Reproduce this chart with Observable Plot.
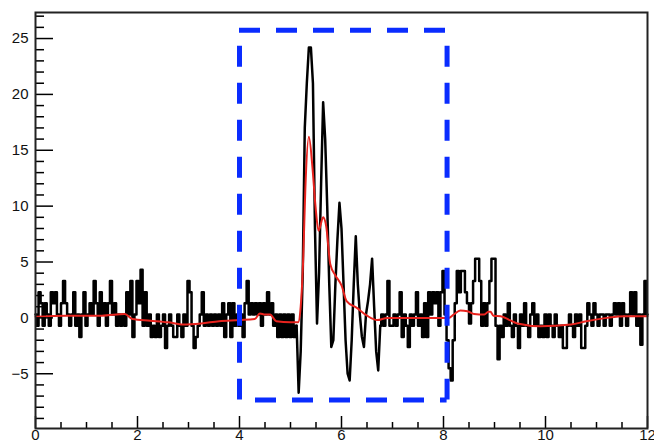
<!DOCTYPE html>
<html><head><meta charset="utf-8">
<script src="https://cdn.jsdelivr.net/npm/d3@7"></script>
<script src="https://cdn.jsdelivr.net/npm/@observablehq/plot@0.6"></script>
<style>html,body{margin:0;padding:0;background:#fff;} #chart svg{display:block;overflow:visible}</style>
</head><body><div id="chart"></div>
<script>
// Black waveform: samples every 0.04 from x = 0 to 12
const sampleStart = 0;
const sampleStep = 0.04;
const signal = [
  0.3,-0.7,2.3,1.3,-0.7,1.3,0.3,-0.7,2.3,1.3,2.3,0.3,-0.7,1.3,3.3,1.3,0.3,-0.7,0.3,2.3,-0.7,0.3,-1.7,0.3,2.3,
  -0.7,0.3,1.3,0.3,3.3,1.3,-0.7,2.3,0.3,1.3,-0.7,1.3,3.3,0.3,1.3,-0.7,0.3,-0.7,0.3,-0.7,2.3,0.3,3.3,-1.7,0.3,
  3.3,1.3,4.3,-0.7,2.3,-0.7,0.3,-1.7,-0.7,-1.7,0.3,-1.7,-0.7,0.3,-2.7,-0.7,0.3,-0.7,-1.7,-1.7,0.3,-0.7,-1.7,0.3,-0.7,
  3.3,2.3,-0.7,-2.7,-1.7,-0.7,0.3,2.3,-0.7,0.3,-0.7,0.3,-0.7,0.3,-0.7,0.3,-0.7,1.3,-1.7,0.3,1.3,-1.7,1.3,-0.7,0.3,
  -0.7,0.3,-1.7,1.3,3.3,0.3,1.3,0.3,1.3,0.3,1.3,-0.7,1.3,0.3,2.3,0.3,1.3,-0.7,0.3,-1.7,0.3,-1.7,0.3,-1.7,0.3,
  -1.7,0.3,-1.7,-0.7,-6.7,-3.0,4.0,17.0,21.0,24.2,24.2,21.0,8.0,-0.5,4.0,12.0,19.3,16.0,10.0,3.0,-2.6,-2.0,3.0,7.0,10.3,
  8.0,3.0,-2.0,-5.0,-5.6,-2.0,3.0,7.3,3.0,0.3,-1.7,-2.6,0.3,1.5,3.0,5.3,1.0,-3.0,-4.7,-0.7,0.3,-0.7,0.3,3.3,-0.7,
  -0.7,0.3,-0.7,0.3,2.3,-1.7,0.3,-0.7,-2.6,0.3,-0.7,0.3,2.3,-0.7,0.3,-1.7,1.3,-1.7,2.3,0.3,2.3,1.3,2.3,-0.7,2.3,
  4.2,0.3,-2.0,-4.5,-5.6,-2.0,1.3,4.2,2.3,4.2,4.2,2.3,1.3,-0.5,1.3,3.3,5.3,5.3,3.3,-0.7,1.3,-0.7,1.3,3.3,5.3,
  5.3,-0.7,-3.7,-0.7,-1.7,0.3,-0.7,1.3,-0.7,-1.7,0.3,-0.7,-2.7,0.3,-0.7,1.3,-0.7,-1.7,0.3,1.3,-0.7,0.3,-1.7,-0.7,-1.7,
  0.3,-1.7,0.3,-0.7,-1.7,0.3,-0.7,-1.7,-0.7,-2.7,-2.7,-0.7,0.3,-0.7,-1.7,0.3,-0.7,0.3,-2.7,-2.7,-0.7,1.3,0.3,-0.7,1.3,
  0.3,-0.7,0.3,0.3,-0.7,0.3,0.3,-0.7,0.3,1.3,0.3,1.3,-0.7,1.3,0.3,-0.7,0.3,2.3,0.3,2.3,-0.7,0.3,-2.4,0.3,3.3,0.3
];
// x-range of the pulse (drawn with straight segments; the quiet baseline is drawn as steps)
const pulseRange = [5.12, 6.76];
// Red smoothed curve
const smoothX = [0,0.6,1.3,1.75,1.9,2.25,2.6,2.9,3.25,3.6,4.0,4.3,4.4,4.5,4.6,4.72,5.0,5.15,5.2,5.25,5.29,5.36,5.43,5.49,5.55,5.64,5.7,5.78,5.88,6.0,6.1,6.3,6.5,6.7,6.9,7.5,8.1,8.2,8.33,8.47,8.6,8.8,8.88,8.92,8.98,9.12,9.3,9.45,9.9,10.5,10.8,11.2,11.55,12];
const smoothY = [0.1,0.2,0.2,0.35,-0.1,-0.25,-0.4,-0.6,-0.5,-0.3,-0.2,-0.1,0.4,0.3,0.3,-0.3,-0.4,-0.4,1.0,5.4,11.4,16.2,13.5,10.0,7.8,9.0,8.2,4.8,3.8,2.9,1.5,0.9,0.2,-0.2,0,0,0,0.3,0.65,0.6,0.35,0.3,0.55,0.55,0.2,0.15,-0.2,-0.5,-0.75,-0.6,-0.3,0,0.15,0.15];
// Dashed selection box
const boxX = [4.0, 8.07];
const boxY = [-7.35, 25.75];
// Axes
const xDomain = [0, 12];
const yDomain = [-9.9, 27.33];
const xMajor = [0,2,4,6,8,10,12];
const xMinor = [0.5,1,1.5,2.5,3,3.5,4.5,5,5.5,6.5,7,7.5,8.5,9,9.5,10.5,11,11.5];
const yMajor = [-5,0,5,10,15,20,25];
const yMinor = [-9,-8,-7,-6,-4,-3,-2,-1,1,2,3,4,6,7,8,9,11,12,13,14,16,17,18,19,21,22,23,24,26,27];

const W = 654, H = 444, mt = 12, mr = 7, mb = 16, ml = 35;
const pw = W - ml - mr, ph = H - mt - mb;

const black = signal.map((v, i) => ({x: +(sampleStart + i * sampleStep).toFixed(2), y: v}));
const eps = 1e-9;
const seg = black.map(d => d.x <= pulseRange[0] + eps ? "a" : d.x >= pulseRange[1] - eps ? "c" : "b");
const before = black.filter(d => d.x <= pulseRange[0] + eps);
const pulse = black.filter(d => d.x >= pulseRange[0] - eps && d.x <= pulseRange[1] + eps);
const after = black.filter(d => d.x >= pulseRange[1] - eps);
const red = smoothX.map((x, i) => ({x, y: smoothY[i]}));
const blue = "#0a2cff";
const blackStyle = {x: "x", y: "y", stroke: "#000", strokeWidth: 2.5};

const chart = Plot.plot({
  width: W, height: H,
  marginTop: mt, marginRight: mr, marginBottom: mb, marginLeft: ml,
  style: {fontFamily: "'Liberation Sans', Arial, Helvetica, sans-serif", fontSize: "15px", color: "#111", background: "#fff"},
  x: {domain: xDomain, label: null},
  y: {domain: yDomain, label: null},
  marks: [
    Plot.axisX(xMajor, {tickSize: 0, tickPadding: 1, fontSize: 15, label: null}),
    Plot.axisY(yMajor, {tickSize: 0, tickPadding: 7, fontSize: 15, label: null}),
    Plot.line(before, {...blackStyle, curve: "step"}),
    Plot.line(pulse, {...blackStyle, curve: "linear", strokeLinejoin: "round"}),
    Plot.line(after, {...blackStyle, curve: "step"}),
    Plot.line(red, {x: "x", y: "y", stroke: "#e8231e", strokeWidth: 2, curve: "monotone-x"}),
    Plot.ruleY([boxY[1]], {x1: boxX[0], x2: boxX[1], stroke: blue, strokeWidth: 5, strokeDasharray: "21,16", strokeDashoffset: 0}),
    Plot.ruleY([boxY[0]], {x1: boxX[0], x2: boxX[1], stroke: blue, strokeWidth: 5, strokeDasharray: "21,16", strokeDashoffset: 21}),
    Plot.ruleX(boxX, {y1: boxY[1], y2: boxY[0], stroke: blue, strokeWidth: 5, strokeDasharray: "21,16", strokeDashoffset: 21}),
    Plot.tickY(yMajor, {y: d => d, insetRight: pw - 18, stroke: "#000", strokeWidth: 1.5}),
    Plot.tickY(yMinor, {y: d => d, insetRight: pw - 9, stroke: "#000", strokeWidth: 1.5}),
    Plot.tickX(xMajor, {x: d => d, insetTop: ph - 12, stroke: "#000", strokeWidth: 1.5}),
    Plot.tickX(xMinor, {x: d => d, insetTop: ph - 6, stroke: "#000", strokeWidth: 1.5}),
    Plot.frame({stroke: "#222", strokeWidth: 2})
  ]
});
document.getElementById("chart").appendChild(chart);
</script>
</body></html>
